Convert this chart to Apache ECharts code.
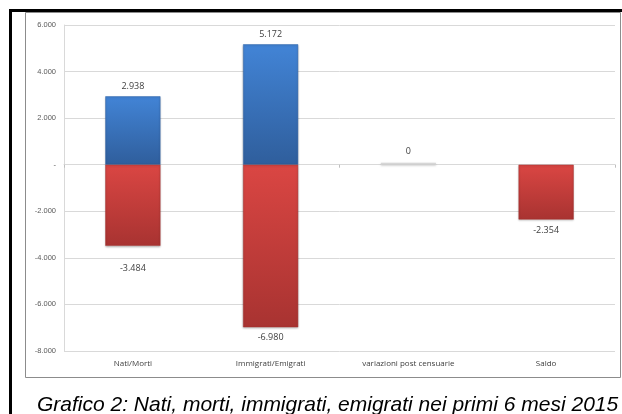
<!DOCTYPE html>
<html><head><meta charset="utf-8">
<script src="https://cdn.jsdelivr.net/npm/echarts@6/dist/echarts.min.js"></script>
<style>html,body{margin:0;padding:0;background:#fff}#c{width:622px;height:414px}</style>
</head><body><div id="c"></div>
<script>
const categories = ['Nati/Morti', 'Immigrati/Emigrati', 'variazioni post censuarie', 'Saldo'];
const positiveValues = [2938, 5172, null, null];
const negativeValues = [-3484, -6980, null, -2354];
const zeroValues = [null, null, 0, null];
const yTicks = { min: -8000, max: 6000, interval: 2000 };
const caption = 'Grafico 2: Nati, morti, immigrati, emigrati nei primi 6 mesi 2015';

function fmt(v) {
  if (v === 0) return '0';
  const s = Math.abs(v).toString().replace(/\B(?=(\d{3})+(?!\d))/g, '.');
  return (v < 0 ? '-' : '') + s;
}
const lblFont = { fontFamily: 'Open Sans, Liberation Sans, sans-serif', fontSize: 9, color: '#404040' };
const negLabelDistance = [18, 6, 6, 6];

const chart = echarts.init(document.getElementById('c'), null, { renderer: 'canvas' });
chart.setOption({
  animation: false,
  backgroundColor: '#fff',
  title: {
    text: caption, left: 32, top: 390,
    textStyle: { fontFamily: 'Liberation Sans, Arial, sans-serif', fontStyle: 'italic', fontWeight: 'normal', fontSize: 21, color: '#000' }
  },
  graphic: [
    { type: 'rect', shape: { x: 25.5, y: 12.5, width: 595, height: 365 }, style: { fill: null, stroke: '#8c8c8c', lineWidth: 1 }, z: 100 },
    { type: 'rect', shape: { x: 10.5, y: 10.5, width: 800, height: 800 }, style: { fill: null, stroke: '#000', lineWidth: 3 }, z: 100 }
  ],
  grid: { left: 64, right: 7, top: 25, bottom: 63, containLabel: false },
  xAxis: [
    {
      type: 'category', data: categories, position: 'bottom',
      axisLine: { onZero: false, show: false }, axisTick: { show: false },
      axisLabel: { fontFamily: 'Open Sans, Liberation Sans, sans-serif', fontSize: 8, color: '#404040', margin: 9 }
    },
    {
      type: 'category', data: categories, position: 'bottom',
      axisLine: { onZero: true, lineStyle: { color: '#d9d9d9' } },
      axisTick: { show: true, length: 3, lineStyle: { color: '#bfbfbf' } },
      axisLabel: { show: false }
    }
  ],
  yAxis: {
    type: 'value', min: yTicks.min, max: yTicks.max, interval: yTicks.interval,
    axisLine: { show: true, lineStyle: { color: '#d9d9d9' } },
    axisTick: { show: false },
    splitLine: { lineStyle: { color: '#d9d9d9', width: 1 } },
    axisLabel: {
      fontFamily: 'Liberation Sans, sans-serif', fontSize: 7.5, color: '#595959', margin: 8,
      formatter: v => v === 0 ? '-' : fmt(v)
    }
  },
  series: [
    {
      type: 'bar', name: 'pos', stack: 's', data: positiveValues, barWidth: '40%',
      itemStyle: {
        color: new echarts.graphic.LinearGradient(0, 0, 0, 1, [
          { offset: 0, color: '#4284d6' }, { offset: 1, color: '#2f5e9c' }
        ]),
        borderColor: '#3566a8', borderWidth: 0.5,
        shadowColor: 'rgba(0,0,0,0.25)', shadowBlur: 2, shadowOffsetY: 1
      },
      label: { show: true, position: 'top', distance: 5, formatter: p => fmt(p.value), ...lblFont }
    },
    {
      type: 'bar', name: 'neg', stack: 's', barWidth: '40%',
      data: negativeValues.map((v, i) => v === null ? null : { value: v, label: { distance: negLabelDistance[i] } }),
      itemStyle: {
        color: new echarts.graphic.LinearGradient(0, 0, 0, 1, [
          { offset: 0, color: '#da4643' }, { offset: 1, color: '#a83331' }
        ]),
        borderColor: '#a83331', borderWidth: 0.5,
        shadowColor: 'rgba(0,0,0,0.25)', shadowBlur: 2, shadowOffsetY: 1
      },
      label: { show: true, position: 'bottom', distance: 6, formatter: p => fmt(p.value), ...lblFont }
    },
    {
      type: 'bar', name: 'zero', stack: 'z', data: zeroValues, barWidth: '40%', barGap: '-100%',
      barMinHeight: 2,
      itemStyle: { color: '#d6d6d6', shadowColor: 'rgba(0,0,0,0.2)', shadowBlur: 2, shadowOffsetY: 1 },
      label: { show: true, position: 'top', distance: 7, formatter: p => fmt(p.value), ...lblFont }
    }
  ]
});
</script></body></html>
